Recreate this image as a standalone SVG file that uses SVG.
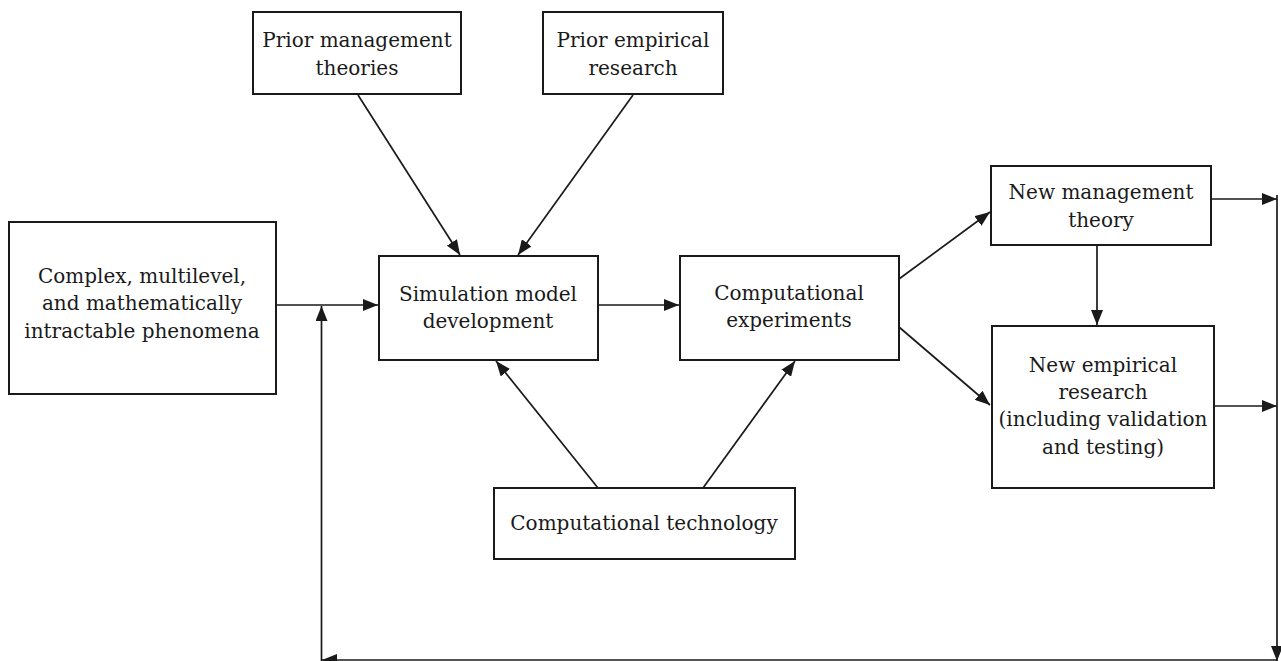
<svg xmlns="http://www.w3.org/2000/svg" width="1281" height="661" viewBox="0 0 1281 661">
<style>
.box{fill:#fff;stroke:#1a1a1a;stroke-width:2}
.lbl{font-family:"DejaVu Serif","Liberation Serif",serif;font-size:20px;fill:#1a1a1a;text-anchor:middle}
.con{fill:none;stroke:#1a1a1a;stroke-width:1.7}
</style>
<defs>
<marker id="ah" markerUnits="userSpaceOnUse" markerWidth="16" markerHeight="12" refX="15" refY="6" orient="auto">
<path d="M0,0 L15,6 L0,12 Z" fill="#1a1a1a"/>
</marker>
</defs>
<rect width="1281" height="661" fill="#fff"/>
<g id="connectors">
<line class="con" x1="358" y1="95" x2="460" y2="255" marker-end="url(#ah)"/>
<line class="con" x1="633" y1="95" x2="518" y2="255" marker-end="url(#ah)"/>
<line class="con" x1="277" y1="305" x2="378" y2="305" marker-end="url(#ah)"/>
<line class="con" x1="599" y1="305" x2="679" y2="305" marker-end="url(#ah)"/>
<line class="con" x1="598" y1="488" x2="496" y2="361" marker-end="url(#ah)"/>
<line class="con" x1="703" y1="488" x2="795" y2="361" marker-end="url(#ah)"/>
<line class="con" x1="899" y1="279" x2="990" y2="212" marker-end="url(#ah)"/>
<line class="con" x1="899" y1="327" x2="990" y2="405" marker-end="url(#ah)"/>
<line class="con" x1="1097" y1="246" x2="1097" y2="325" marker-end="url(#ah)"/>
<line class="con" x1="1212" y1="199" x2="1277" y2="199" marker-end="url(#ah)"/>
<line class="con" x1="1215" y1="406" x2="1277" y2="406" marker-end="url(#ah)"/>
<line class="con" x1="1277" y1="195" x2="1277" y2="661" marker-end="url(#ah)"/>
<line class="con" x1="1277" y1="660" x2="322" y2="660" stroke="#ccc" marker-end="url(#ah)"/>
<line class="con" x1="321.5" y1="661" x2="321.5" y2="306" marker-end="url(#ah)"/>
</g>
<g id="n-complex">
<rect class="box" x="9" y="222" width="267" height="172"/>
<text class="lbl" x="142" y="283">Complex, multilevel,</text>
<text class="lbl" x="142" y="310">and mathematically</text>
<text class="lbl" x="142" y="338">intractable phenomena</text>
</g>
<g id="n-prior-mgmt">
<rect class="box" x="253" y="12" width="208" height="82"/>
<text class="lbl" x="357" y="47">Prior management</text>
<text class="lbl" x="357" y="75">theories</text>
</g>
<g id="n-prior-emp">
<rect class="box" x="543" y="12" width="180" height="82"/>
<text class="lbl" x="633" y="47">Prior empirical</text>
<text class="lbl" x="633" y="75">research</text>
</g>
<g id="n-sim">
<rect class="box" x="379" y="256" width="219" height="104"/>
<text class="lbl" x="488" y="301">Simulation model</text>
<text class="lbl" x="488" y="328">development</text>
</g>
<g id="n-exp">
<rect class="box" x="680" y="256" width="219" height="104"/>
<text class="lbl" x="789" y="300">Computational</text>
<text class="lbl" x="789" y="327">experiments</text>
</g>
<g id="n-tech">
<rect class="box" x="494" y="488" width="301" height="71"/>
<text class="lbl" x="644" y="530">Computational technology</text>
</g>
<g id="n-new-theory">
<rect class="box" x="991" y="166" width="220" height="79"/>
<text class="lbl" x="1101" y="199">New management</text>
<text class="lbl" x="1101" y="227">theory</text>
</g>
<g id="n-new-emp">
<rect class="box" x="992" y="326" width="222" height="162"/>
<text class="lbl" x="1103" y="372">New empirical</text>
<text class="lbl" x="1103" y="399">research</text>
<text class="lbl" x="1103" y="426">(including validation</text>
<text class="lbl" x="1103" y="454">and testing)</text>
</g>
</svg>
